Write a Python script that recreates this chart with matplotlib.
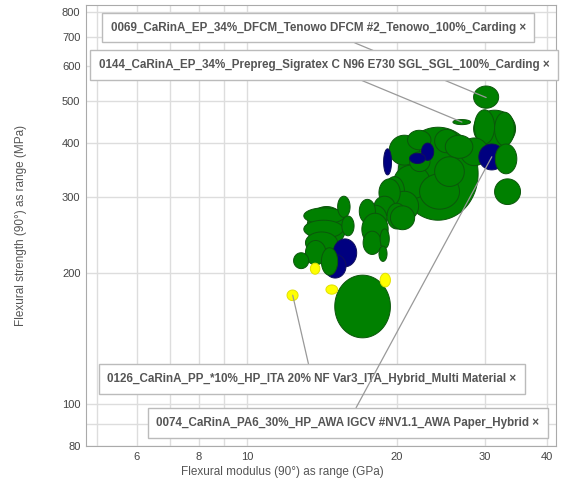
import numpy as np
import matplotlib
matplotlib.use('Agg')
import matplotlib.pyplot as plt

plt.rcParams['font.family'] = ['Liberation Sans', 'DejaVu Sans']

# Ranges per material: (modulus min, modulus max, strength min, strength max)
green_ranges = [
    (20.1, 29.1, 265, 434),
    (15.0, 19.4, 142, 198),
    (28.5, 32.0, 480, 540),
    (25.9, 28.1, 440, 452),
    (28.5, 34.6, 390, 475),
    (28.6, 31.4, 397, 476),
    (31.4, 34.4, 393, 470),
    (31.4, 35.4, 288, 330),
    (26.8, 30.5, 354, 410),
    (19.3, 22.2, 355, 416),
    (21.0, 23.4, 385, 427),
    (23.8, 26.6, 379, 429),
    (25.0, 28.4, 368, 416),
    (19.7, 23.3, 297, 355),
    (22.2, 26.7, 281, 339),
    (18.9, 20.7, 286, 334),
    (19.4, 22.1, 264, 309),
    (21.2, 23.3, 343, 381),
    (23.8, 27.3, 317, 371),
    (18.4, 20.3, 285, 330),
    (18.0, 19.8, 271, 301),
    (17.1, 19.1, 248, 287),
    (16.8, 18.1, 261, 296),
    (17.0, 19.2, 232, 275),
    (17.1, 18.6, 221, 250),
    (18.5, 19.3, 228, 253),
    (19.1, 20.9, 253, 290),
    (19.4, 21.7, 252, 286),
    (18.4, 19.1, 213, 231),
    (13.2, 15.8, 230, 285),
    (13.0, 15.7, 260, 283),
    (13.0, 15.6, 241, 265),
    (13.1, 15.2, 222, 249),
    (13.1, 14.4, 209, 238),
    (15.2, 16.1, 269, 301),
    (15.5, 16.4, 244, 271),
    (12.4, 13.3, 205, 223),
]
blue_ranges = [
    (14.9, 16.6, 207, 240),
    (14.3, 15.8, 195, 221),
    (18.8, 19.5, 337, 387),
    (22.4, 23.7, 364, 399),
    (21.2, 22.8, 358, 378),
    (29.2, 32.9, 346, 397),
]
green_top = [
    (14.1, 15.2, 198, 229),
    (31.5, 34.8, 339, 397),
]
yellow_ranges = [
    (12.03, 12.66, 173, 183),
    (13.4, 14.0, 199, 211),
    (14.4, 15.2, 179, 188),
    (18.5, 19.4, 186, 200),
]

labels = [
    '0069_CaRinA_EP_34%_DFCM_Tenowo DFCM #2_Tenowo_100%_Carding \u00d7',
    '0144_CaRinA_EP_34%_Prepreg_Sigratex C N96 E730 SGL_SGL_100%_Carding \u00d7',
    '0126_CaRinA_PP_*10%_HP_ITA 20% NF Var3_ITA_Hybrid_Multi Material \u00d7',
    '0074_CaRinA_PA6_30%_HP_AWA IGCV #NV1.1_AWA Paper_Hybrid \u00d7',
]
label_targets = [(30.2, 508), (27.0, 446), (12.35, 178), (31.0, 371)]
label_pos = [(0.567, 0.943), (0.578, 0.866), (0.556, 0.217), (0.620, 0.126)]

xticks = [5, 6, 7, 8, 9, 10, 20, 30, 40]
xticklabels = ['', '6', '', '8', '', '10', '20', '30', '40']
yticks = [80, 90, 100, 200, 300, 400, 500, 600, 700, 800]
yticklabels = ['80', '', '100', '200', '300', '400', '500', '600', '700', '800']


def draw_range(ax, r, face, edge):
    # ellipse inscribed in the log-log box of the range
    x0, x1, y0, y1 = np.log10(r)
    t = np.linspace(0, 2 * np.pi, 120)
    cx, cy = (x0 + x1) / 2, (y0 + y1) / 2
    rx, ry = (x1 - x0) / 2, (y1 - y0) / 2
    ax.fill(10 ** (cx + rx * np.cos(t)), 10 ** (cy + ry * np.sin(t)),
            facecolor=face, edgecolor=edge, linewidth=0.7, zorder=3)


fig = plt.figure(figsize=(5.61, 4.84), dpi=100)
ax = fig.add_axes([0.1533, 0.0785, 0.8377, 0.9112])
ax.set_xscale('log')
ax.set_yscale('log')

for r in green_ranges:
    draw_range(ax, r, '#008000', '#0b560b')
for r in blue_ranges:
    draw_range(ax, r, '#000080', '#10105c')
for r in green_top:
    draw_range(ax, r, '#008000', '#0b560b')
for r in yellow_ranges:
    draw_range(ax, r, '#ffff00', '#e0e000')

for text, target, pos in zip(labels, label_targets, label_pos):
    ax.annotate(text, xy=target, xycoords='data', xytext=pos, textcoords='figure fraction',
                ha='center', va='center', fontsize=8.4, fontweight='bold', color='#555555',
                bbox=dict(boxstyle='square,pad=0.75', fc='white', ec='#bbbbbb', lw=1),
                arrowprops=dict(arrowstyle='-', color='#999999', lw=0.9, shrinkA=0, shrinkB=0),
                zorder=5)

ax.set_xlim(4.75, 41.7)
ax.set_ylim(80, 830)
ax.set_xticks(xticks)
ax.set_xticklabels(xticklabels)
ax.set_yticks(yticks)
ax.set_yticklabels(yticklabels)
ax.minorticks_off()
ax.tick_params(length=0, pad=4, labelsize=8, labelcolor='#444444')
ax.grid(True, color='#dddddd', lw=1)
ax.set_axisbelow(True)
for s in ax.spines.values():
    s.set_color('#aaaaaa')

ax.set_xlabel('Flexural modulus (90°) as range (GPa)', fontsize=8.5, color='#555555')
ax.xaxis.set_label_coords(0.417, -0.045)
ax.set_ylabel('Flexural strength (90°) as range (MPa)', fontsize=8.5, color='#555555')
ax.yaxis.set_label_coords(-0.125, 0.5)

fig.savefig('out.png', dpi=100)
